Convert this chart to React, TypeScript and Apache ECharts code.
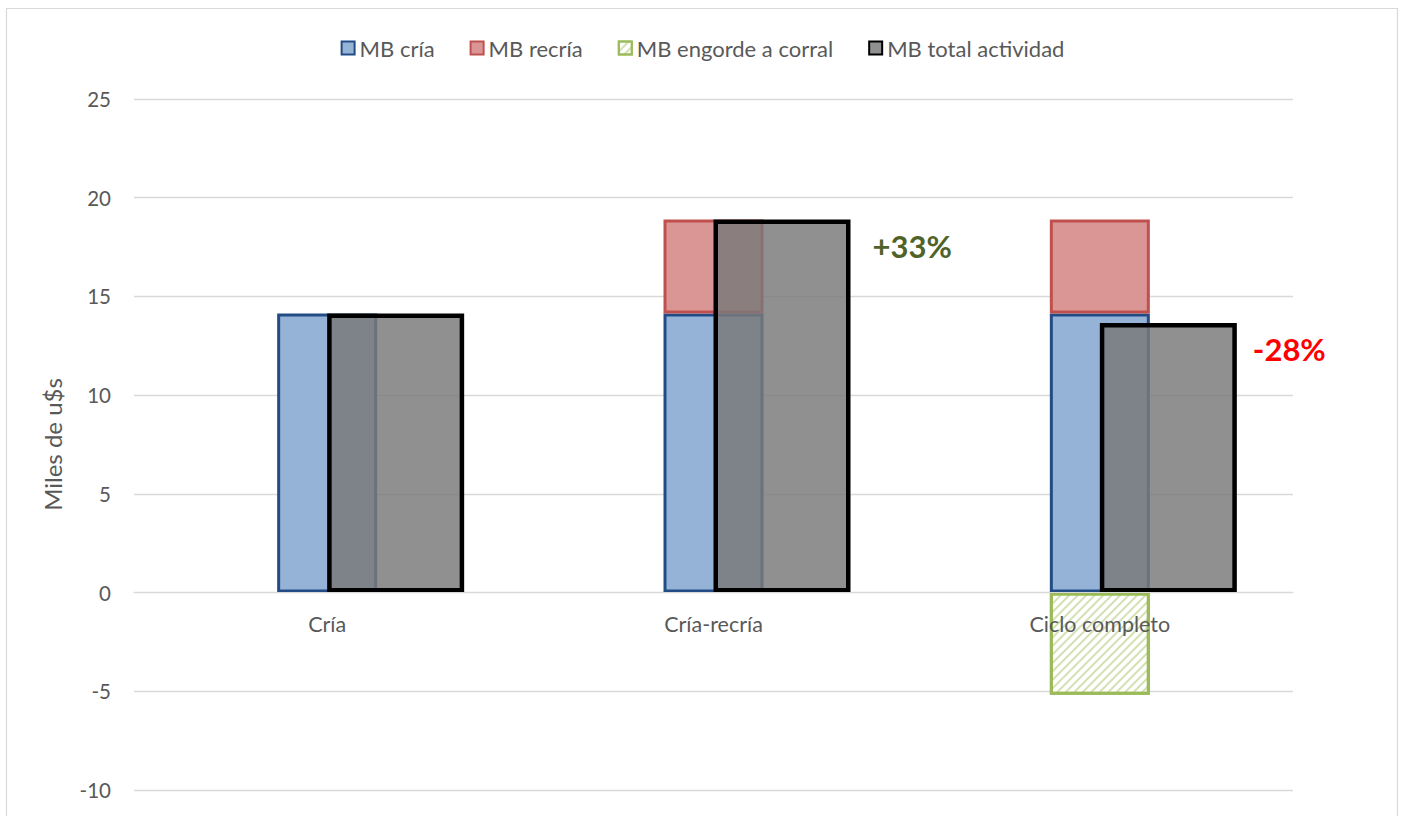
import React, { useEffect, useRef } from "react";
import * as echarts from "echarts";

const categories = ["Cría", "Cría-recría", "Ciclo completo"];
const mbCria = [14.14, 14.14, 14.14];
const mbRecria: (number | string)[] = ["-", 4.76, 4.76];
const mbEngorde: (number | string)[] = ["-", "-", -5.17];
const mbTotal = [14.14, 18.9, 13.65];
const annotations = ["", "+33%", "-28%"];
const annotationColors = ["#000000", "#4F6228", "#FF0000"];
const annotationOffsets = [
  [0, 0],
  [22, 27],
  [16, 26],
];
const seriesNames = ["MB cría", "MB recría", "MB engorde a corral", "MB total actividad"];
const yMin = -10;
const yMax = 25;
const yStep = 5;

const FONT = "Lato, 'Open Sans', sans-serif";
const GRID_TOP = 99;
const GRID_BOTTOM = 110;
const CHART_H = 900;

export default function App() {
  const ref = useRef<HTMLDivElement>(null);
  useEffect(() => {
    if (!ref.current) return;
    const chart = echarts.init(ref.current, undefined, { renderer: "svg" });
    const gridH = CHART_H - GRID_TOP - GRID_BOTTOM;
    const zeroOffset = -((0 - yMin) / (yMax - yMin)) * gridH;
    const totalData = mbTotal.map((v, i) => ({
      value: v,
      label: annotations[i]
        ? {
            show: true,
            formatter: annotations[i],
            position: ["100%", 0],
            offset: annotationOffsets[i],
            align: "left",
            verticalAlign: "middle",
            color: annotationColors[i],
            fontSize: 31,
            fontWeight: "bold",
            fontFamily: FONT,
          }
        : { show: false },
    }));
    chart.setOption({
      animation: false,
      backgroundColor: "#ffffff",
      textStyle: { fontFamily: FONT },
      graphic: [
        {
          type: "rect",
          shape: { x: 6.5, y: 8.5, width: 1391, height: 950 },
          style: { fill: "none", stroke: "#D9D9D9", lineWidth: 1.2 },
          silent: true,
          z: -10,
        },
      ],
      legend: {
        data: seriesNames,
        top: 32,
        left: "center",
        icon: "rect",
        itemWidth: 13,
        itemHeight: 13,
        itemGap: 35,
        textStyle: { fontSize: 22, color: "#595959", fontFamily: FONT },
      },
      grid: { left: 134, right: 112, top: GRID_TOP, bottom: GRID_BOTTOM, containLabel: false },
      xAxis: [
        {
          type: "category",
          data: categories,
          position: "bottom",
          offset: zeroOffset,
          z: 5,
          axisLine: { show: true, onZero: false, lineStyle: { color: "#D9D9D9", width: 1 } },
          axisTick: { show: false },
          axisLabel: { fontSize: 21.5, color: "#595959", margin: 20, fontFamily: FONT },
        },
        {
          type: "category",
          data: categories,
          position: "top",
          show: false,
          axisLine: { onZero: false },
        },
      ],
      yAxis: {
        type: "value",
        min: yMin,
        max: yMax,
        interval: yStep,
        name: "Miles de u$s",
        nameLocation: "middle",
        nameGap: 70,
        nameTextStyle: { fontSize: 24, color: "#595959", fontFamily: FONT },
        axisLine: { show: false },
        axisTick: { show: false },
        axisLabel: { fontSize: 20.5, color: "#595959", margin: 23, fontFamily: FONT },
        splitLine: { lineStyle: { color: "#D9D9D9", width: 1.3 } },
      },
      series: [
        {
          name: seriesNames[0],
          type: "bar",
          stack: "mb",
          xAxisIndex: 0,
          barWidth: 100,
          data: mbCria,
          itemStyle: { color: "#95B3D7", borderColor: "#234C85", borderWidth: 3 },
        },
        {
          name: seriesNames[1],
          type: "bar",
          stack: "mb",
          xAxisIndex: 0,
          barWidth: 100,
          data: mbRecria,
          itemStyle: { color: "#DA9694", borderColor: "#C0504D", borderWidth: 3 },
        },
        {
          name: seriesNames[2],
          type: "bar",
          stack: "mb",
          xAxisIndex: 0,
          barWidth: 100,
          data: mbEngorde,
          itemStyle: {
            color: "#ffffff",
            borderColor: "#9BBB59",
            borderWidth: 3,
            decal: {
              symbol: "rect",
              symbolSize: 1,
              color: "rgba(155,187,89,0.45)",
              dashArrayX: [1, 0],
              dashArrayY: [2, 4],
              rotation: -Math.PI / 4,
            },
          },
        },
        {
          name: "spacer",
          type: "bar",
          xAxisIndex: 1,
          barWidth: 137,
          barGap: "0%",
          data: ["-", "-", "-"],
          silent: true,
          itemStyle: { color: "transparent" },
        },
        {
          name: seriesNames[3],
          type: "bar",
          xAxisIndex: 1,
          barWidth: 137,
          barGap: "0%",
          data: totalData,
          itemStyle: { color: "rgba(122,122,122,0.83)", borderColor: "#000000", borderWidth: 4.5 },
        },
      ],
    });
    return () => chart.dispose();
  }, []);
  return (
    <div style={{ position: "fixed", left: 0, top: 0, width: "100vw", height: "100vh", overflow: "hidden", background: "#fff" }}>
      <div ref={ref} style={{ width: 1405, height: CHART_H }} />
    </div>
  );
}
